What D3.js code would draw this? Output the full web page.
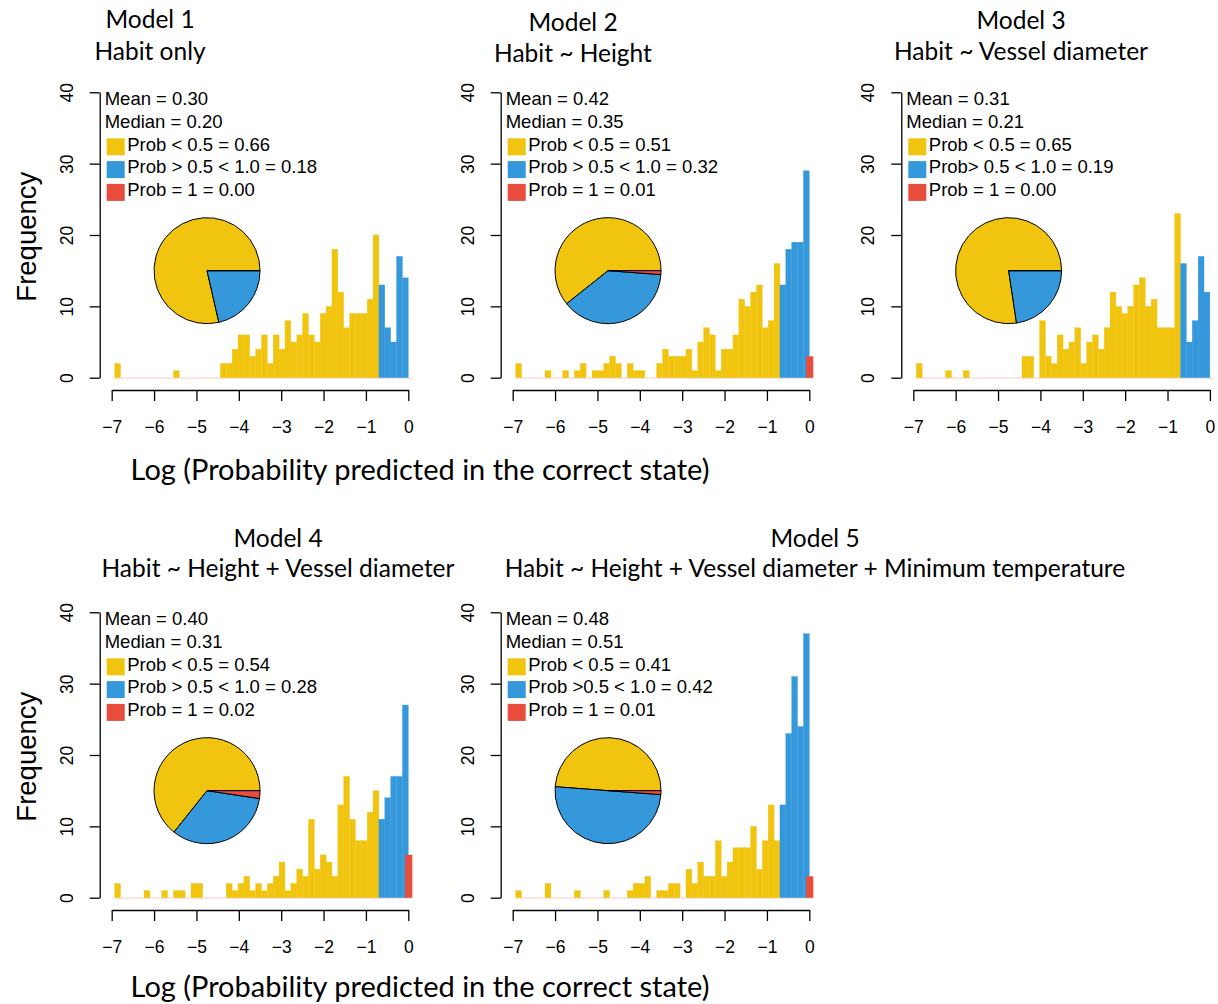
<!DOCTYPE html>
<html><head><meta charset="utf-8">
<script src="https://cdn.jsdelivr.net/npm/d3@7"></script>
<style>body{margin:0;background:#fff} svg{display:block}</style>
</head><body>
<svg id="chart" width="1218" height="1004"></svg>
<script>
// ---------------- data ----------------
const modelNames = ["Model 1", "Model 2", "Model 3", "Model 4", "Model 5"];
const formulas = ["Habit only", "Habit ~ Height", "Habit ~ Vessel diameter",
  "Habit ~ Height + Vessel diameter", "Habit ~ Height + Vessel diameter + Minimum temperature"];
const meanValues = [0.30, 0.42, 0.31, 0.40, 0.48];
const medianValues = [0.20, 0.35, 0.21, 0.31, 0.51];
const propBelowHalf = [0.66, 0.51, 0.65, 0.54, 0.41];
const propHalfToOne = [0.18, 0.32, 0.19, 0.28, 0.42];
const propOne = [0.00, 0.01, 0.00, 0.02, 0.01];
const lowLabels = ["Prob < 0.5 = ", "Prob < 0.5 = ", "Prob < 0.5 = ", "Prob < 0.5 = ", "Prob < 0.5 = "];
const midLabels = ["Prob > 0.5 < 1.0 = ", "Prob > 0.5 < 1.0 = ", "Prob> 0.5 < 1.0 = ", "Prob > 0.5 < 1.0 = ", "Prob >0.5 < 1.0 = "];
const oneLabels = ["Prob = 1 = ", "Prob = 1 = ", "Prob = 1 = ", "Prob = 1 = ", "Prob = 1 = "];

const binWidth = 0.1386; // log(2)/5, bins run leftwards from 0
// counts per bin, left to right, for bins [-6.93,-6.79] ... [-0.83,-0.69]
const yellowModel1 = [2,0,0,0,0,0,0,0,0,0,1,0,0,0,0,0,0,0,2,2,4,6,6,3,4,6,2,6,4,8,5,6,9,6,5,9,10,18,12,7,9,9,9,11,20];
const yellowModel2 = [2,0,0,0,0,1,0,0,1,0,1,2,0,1,1,2,3,2,0,2,1,1,0,0,2,4,3,3,3,4,1,5,7,6,1,4,4,6,11,10,12,13,7,8,16];
const yellowModel3 = [2,0,0,0,0,1,0,0,1,0,0,0,0,0,0,0,0,0,3,3,0,8,3,2,6,4,5,7,2,5,6,4,7,12,10,9,10,13,14,10,11,7,7,7,23];
const yellowModel4 = [2,0,0,0,0,1,0,0,1,0,1,1,0,2,2,0,0,0,0,2,1,2,3,1,2,1,2,3,5,1,2,4,3,11,4,6,5,3,13,17,11,8,8,12,15];
const yellowModel5 = [1,0,0,0,0,2,0,0,0,0,1,0,0,0,0,1,0,0,0,1,2,2,3,0,1,1,2,2,0,4,2,5,3,3,8,3,5,7,7,7,10,4,8,13,8];
// bins [-0.69,-0.55] ... [-0.14,0]
const blueModel1 = [13, 7, 5, 17, 14];
const blueModel2 = [13, 18, 19, 19, 29];
const blueModel3 = [16, 5, 8, 17, 12];
const blueModel4 = [11, 14, 17, 17, 27];
const blueModel5 = [13, 23, 31, 24, 37];
const redCounts = [0, 3, 0, 6, 3];
const redBin = [-0.075, 0.095];
const xTickValues = [-7, -6, -5, -4, -3, -2, -1, 0];
const yTickValues = [0, 10, 20, 30, 40];
const xLabel = "Log (Probability predicted in the correct state)";
const yLabel = "Frequency";

const yellowAll = [yellowModel1, yellowModel2, yellowModel3, yellowModel4, yellowModel5];
const blueAll = [blueModel1, blueModel2, blueModel3, blueModel4, blueModel5];

// ---------------- layout / style ----------------
const COL_YELLOW = "#F1C40F", COL_BLUE = "#3498DB", COL_RED = "#E74C3C";
const colX0 = [111.7, 512.7, 913.3];
const rowY0 = [377.7, 897.7];
const plotW = 296.6, plotH = 285.4;
const panelCol = [0, 1, 2, 0, 1];
const panelRow = [0, 0, 0, 1, 1];
const titleX = [150, 573, 1021, 278, 815];
const titleY1 = [28, 30.5, 28.5, 546.5, 546.5];
const titleY2 = [59.5, 61.5, 59.5, 577, 577];
const SANS = "'Liberation Sans', Arial, Helvetica, sans-serif";
const CAL = "Lato, 'Open Sans', sans-serif";

const svg = d3.select("#chart");
svg.append("rect").attr("width", 1218).attr("height", 1004).attr("fill", "#fff");

modelNames.forEach((name, p) => {
  const x0 = colX0[panelCol[p]], y0 = rowY0[panelRow[p]];
  const x = d3.scaleLinear().domain([-7, 0]).range([x0, x0 + plotW]);
  const y = d3.scaleLinear().domain([0, 40]).range([y0, y0 - plotH]);
  const g = svg.append("g");

  // faint baseline of histogram
  g.append("line")
    .attr("x1", x(-(yellowAll[p].length + 5) * binWidth)).attr("x2", x(redBin[1]))
    .attr("y1", y(0) + 0.5).attr("y2", y(0) + 0.5)
    .attr("stroke", "#f6d6d2").attr("stroke-width", 1.2);

  // yellow bars
  const ny = yellowAll[p].length;
  g.selectAll(".yb").data(yellowAll[p].map((c, i) => ({c, k: 5 + (ny - 1 - i)})).filter(d => d.c > 0))
    .enter().append("rect")
    .attr("x", d => x(-(d.k + 1) * binWidth))
    .attr("width", d => x(-d.k * binWidth) - x(-(d.k + 1) * binWidth))
    .attr("y", d => y(d.c)).attr("height", d => y(0) - y(d.c))
    .attr("fill", COL_YELLOW).attr("stroke", COL_YELLOW).attr("stroke-width", 0.3);
  // blue bars
  const nb = blueAll[p].length;
  g.selectAll(".bb").data(blueAll[p].map((c, i) => ({c, k: nb - 1 - i})).filter(d => d.c > 0))
    .enter().append("rect")
    .attr("x", d => x(-(d.k + 1) * binWidth))
    .attr("width", d => x(-d.k * binWidth) - x(-(d.k + 1) * binWidth))
    .attr("y", d => y(d.c)).attr("height", d => y(0) - y(d.c))
    .attr("fill", COL_BLUE).attr("stroke", COL_BLUE).attr("stroke-width", 0.3);
  // red bar
  if (redCounts[p] > 0) {
    g.append("rect")
      .attr("x", x(redBin[0])).attr("width", x(redBin[1]) - x(redBin[0]))
      .attr("y", y(redCounts[p])).attr("height", y(0) - y(redCounts[p]))
      .attr("fill", COL_RED);
  }

  // x axis
  const xa = g.append("g").attr("transform", `translate(0,${y0 + 12.3})`)
    .call(d3.axisBottom(x).tickValues(xTickValues).tickFormat(d3.format("d"))
      .tickSize(11).tickSizeOuter(0).tickPadding(20));
  xa.select(".domain").attr("stroke-width", 1.3);
  xa.selectAll(".tick line").attr("stroke-width", 1.3);
  xa.selectAll("text").attr("font-family", SANS).attr("font-size", 17.5).attr("fill", "#000");

  // y axis
  const axX = x0 - 12;
  const ya = g.append("g").attr("transform", `translate(${axX},0)`)
    .call(d3.axisLeft(y).tickValues(yTickValues).tickFormat(d3.format("d")).tickSize(10).tickSizeOuter(0));
  ya.select(".domain").attr("stroke-width", 1.3);
  ya.selectAll(".tick line").attr("stroke-width", 1.3);
  ya.selectAll("text").attr("font-family", SANS).attr("font-size", 17.5).attr("fill", "#000")
    .attr("x", null).attr("dy", null).attr("text-anchor", "middle")
    .attr("transform", "translate(-27,0) rotate(-90)");

  // legend
  const top = y(40);
  const lg = g.append("g").attr("font-family", SANS).attr("font-size", 18.5).attr("fill", "#000");
  lg.append("text").attr("x", axX + 5).attr("y", top + 12.7).text("Mean = " + meanValues[p].toFixed(2));
  lg.append("text").attr("x", axX + 5).attr("y", top + 35.5).text("Median = " + medianValues[p].toFixed(2));
  const rows = [
    [COL_YELLOW, lowLabels[p] + propBelowHalf[p].toFixed(2)],
    [COL_BLUE, midLabels[p] + propHalfToOne[p].toFixed(2)],
    [COL_RED, oneLabels[p] + propOne[p].toFixed(2)]
  ];
  rows.forEach((r, i) => {
    const bl = top + 58.3 + i * 22.8;
    lg.append("rect").attr("x", axX + 7).attr("y", bl - 12.3).attr("width", 18).attr("height", 17).attr("fill", r[0]);
    lg.append("text").attr("x", axX + 27.5).attr("y", bl).text(r[1]);
  });

  // pie (R style: starts at 3 o'clock, counter-clockwise)
  const pieData = [propBelowHalf[p], propHalfToOne[p], propOne[p]];
  const pieCols = [COL_YELLOW, COL_BLUE, COL_RED];
  const arcs = d3.pie().sort(null).startAngle(Math.PI / 2).endAngle(Math.PI / 2 - 2 * Math.PI)(pieData);
  const arc = d3.arc().innerRadius(0).outerRadius(53);
  const pg = g.append("g").attr("transform", `translate(${x(-4.75)},${y(15)})`);
  pg.selectAll("path").data(arcs).enter().append("path")
    .attr("d", arc).attr("fill", (d, i) => pieCols[i])
    .attr("stroke", "#000").attr("stroke-width", 1).attr("stroke-linejoin", "round");

  // titles
  svg.append("text").attr("x", titleX[p]).attr("y", titleY1[p]).attr("text-anchor", "middle")
    .attr("font-family", CAL).attr("font-size", 24.5).attr("fill", "#000").text(name);
  svg.append("text").attr("x", titleX[p]).attr("y", titleY2[p]).attr("text-anchor", "middle")
    .attr("font-family", CAL).attr("font-size", 24.5).attr("fill", "#000").text(formulas[p]);
});

// shared axis titles
[480, 997].forEach(by => {
  svg.append("text").attr("x", 420).attr("y", by).attr("text-anchor", "middle")
    .attr("font-family", CAL).attr("font-size", 29).attr("fill", "#000").text(xLabel);
});
[236.7, 756.7].forEach(cy => {
  svg.append("text").attr("transform", `translate(36,${cy}) rotate(-90)`).attr("text-anchor", "middle")
    .attr("font-family", SANS).attr("font-size", 27.5).attr("fill", "#000").text(yLabel);
});
</script>
</body></html>
